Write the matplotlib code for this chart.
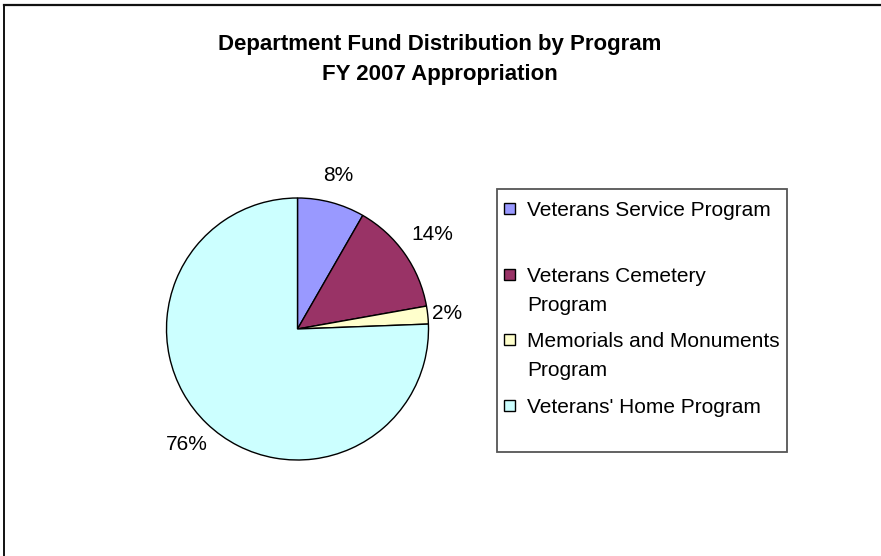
import matplotlib
matplotlib.use("Agg")
import matplotlib.pyplot as plt
from matplotlib.patches import Rectangle
from matplotlib.lines import Line2D
import numpy as np

plt.rcParams['font.family'] = ['Liberation Sans', 'DejaVu Sans']

# FY 2007 appropriation share by program (percent)
programs = [
    "Veterans Service Program",
    "Veterans Cemetery\nProgram",
    "Memorials and Monuments\nProgram",
    "Veterans' Home Program",
]
shares = [8.3, 13.9, 2.2, 75.6]
colors = ["#9999FF", "#993366", "#FFFFCC", "#CCFFFF"]
title = "Department Fund Distribution by Program\nFY 2007 Appropriation"

W, H = 881, 556
fig = plt.figure(figsize=(W / 100, H / 100), dpi=100)
fig.patch.set_facecolor("white")

def fx(px):
    return px / W

def fy(py):
    return 1 - py / H

# chart-area frame (top and left edges)
fig.add_artist(Line2D([fx(3.5), fx(881)], [fy(4.5), fy(4.5)], color="#111111", lw=1.6))
fig.add_artist(Line2D([fx(3.5), fx(3.5)], [fy(4.5), fy(556)], color="#111111", lw=1.4))

fig.text(fx(440), fy(34), title, ha="center", va="top", fontsize=16,
         fontweight="bold", linespacing=1.55)

# pie
cx, cy, r = 297.5, 329, 131
ax = fig.add_axes([fx(cx - r), fy(cy + r), (2 * r) / W, (2 * r) / H])
wedges, _ = ax.pie(shares, colors=colors, startangle=90, counterclock=False,
                   wedgeprops=dict(edgecolor="black", linewidth=1.0))
ax.set_xlim(-1, 1)
ax.set_ylim(-1, 1)
ax.set_aspect("equal")
ax.axis("off")

label_dist = [1.21, 1.26, 1.145, 1.22]
total = sum(shares)
for w, v, d in zip(wedges, shares, label_dist):
    mid = np.deg2rad((w.theta1 + w.theta2) / 2)
    ax.text(d * np.cos(mid), d * np.sin(mid), f"{v / total * 100:.0f}%",
            ha="center", va="center", fontsize=15, clip_on=False)

# legend box
fig.add_artist(Rectangle((fx(497), fy(452)), (787 - 497) / W, (452 - 189) / H,
                         facecolor="white", edgecolor="#555555", lw=1.3))
step = 65.7
line_gap = 29
for i, (name, c) in enumerate(zip(programs, colors)):
    base = 216 + i * step
    fig.add_artist(Rectangle((fx(504), fy(base - 2)), 11 / W, 11 / H,
                             facecolor=c, edgecolor="black", lw=1.0))
    for j, line in enumerate(name.split("\n")):
        fig.text(fx(527), fy(base + j * line_gap), line, ha="left",
                 va="baseline", fontsize=15)

fig.savefig("out.png", dpi=100, facecolor="white")
